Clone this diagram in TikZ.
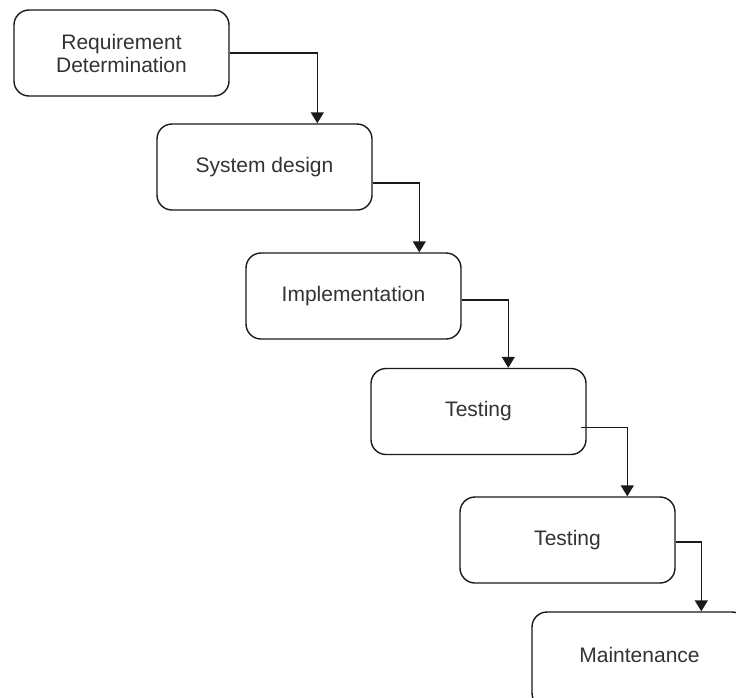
\documentclass[tikz,border=0pt]{standalone}
\usepackage{fontspec}
\setmainfont{Liberation Sans}
\usetikzlibrary{arrows.meta,calc}
\definecolor{txt}{HTML}{333333}
\definecolor{edge}{HTML}{1A1A1A}
\tikzset{
  phase/.style={draw=edge, line width=1.4pt, rounded corners=15pt, fill=white,
    minimum width=215pt, minimum height=86pt, inner sep=0pt, align=center,
    text=txt, font=\fontsize{21}{23}\selectfont},
  flow/.style={draw=edge, line width=1.4pt,
    -{Triangle[width=13pt,length=11pt]}},
}
\begin{document}
\begin{tikzpicture}[x=1pt,y=-1pt]
  \useasboundingbox (0,0) rectangle (736,697);
  \clip (0,0) rectangle (736,697);
  \fill[white] (0,0) rectangle (736,697);

  \node[phase] (req)  at (121.5,53)  {Requirement\\Determination};
  \node[phase] (sys)  at (264.5,167) {System design};
  \node[phase] (impl) at (353.5,296) {Implementation};
  \node[phase] (test) at (478.5,411.5) {Testing};
  \node[phase] (test2) at (567.5,540) {Testing};
  % last box runs past the lower edge of the page
  \node[phase, minimum height=96pt, text depth=0pt] (maint) at (639.5,660) {};
  \node[text=txt, font=\fontsize{21}{23}\selectfont] (mainttxt) at (639.5,655) {Maintenance};

  \coordinate (testout) at ($(test.east)+(-6,16)$);

  \draw[flow] (req.east) -| ($(sys.north west)+(161,0)$);
  \draw[flow] ($(sys.east)+(0,16)$) -| ($(impl.north west)+(174,0)$);
  \draw[flow] ($(impl.east)+(0,4)$) -| ($(test.north west)+(138,0)$);
  \draw[flow] (testout) -| ($(test2.north west)+(168,0)$);
  \draw[flow] ($(test2.east)+(0,2)$) -| ($(maint.north west)+(170,0)$);
\end{tikzpicture}
\end{document}
